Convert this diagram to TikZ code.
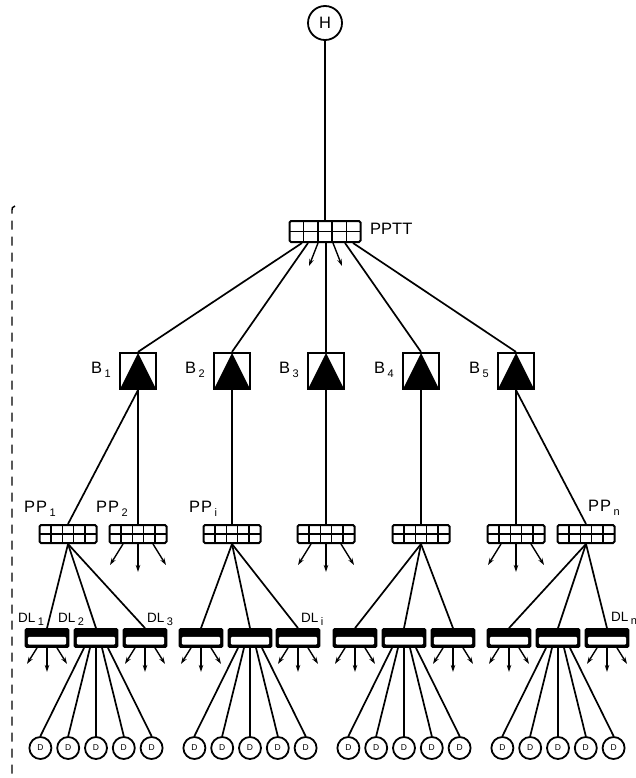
\documentclass[tikz,border=0pt]{standalone}
\usepackage{fontspec}
\setmainfont{Liberation Sans}
\usetikzlibrary{calc,arrows.meta}
\newcommand{\lsub}[1]{\kern2.5pt\raisebox{-0.55ex}{\fontsize{11}{12}\selectfont #1}}
\begin{document}
\begin{tikzpicture}[x=1pt,y=-1pt,
  conn/.style={line width=1.7pt},
  outarr/.style={line width=1.4pt,-{Stealth[length=7pt,width=4.5pt]}},
  gridbox/.style={draw,line width=2pt,rounded corners=1.5pt,minimum width=57pt,minimum height=18pt,inner sep=0pt,
    path picture={
      \foreach \f in {0.2,0.4,0.6,0.8}{
        \draw[line width=1.5pt] ($(path picture bounding box.north west)!\f!(path picture bounding box.north east)$) -- ($(path picture bounding box.south west)!\f!(path picture bounding box.south east)$);
      }
      \draw[line width=1.5pt] (path picture bounding box.west) -- (path picture bounding box.east);
    }},
  bbox/.style={draw,line width=2.2pt,minimum size=36pt,inner sep=0pt,
    path picture={\fill (path picture bounding box.south west) -- (path picture bounding box.north) -- (path picture bounding box.south east) -- cycle;}},
  dlbox/.style={draw,fill=black,line width=1.8pt,rounded corners=1.2pt,minimum width=43pt,minimum height=18pt,inner sep=0pt,
    path picture={\fill[white] ([xshift=2.4pt,yshift=2.4pt]path picture bounding box.south west) rectangle ([xshift=-2.4pt,yshift=1.2pt]path picture bounding box.east);}},
  dnode/.style={circle,draw,line width=1.8pt,minimum size=22pt,inner sep=0pt,font=\fontsize{8.5}{9}\selectfont},
  lbl/.style={inner sep=0pt,font=\fontsize{16.5}{18}\selectfont},
  dllbl/.style={inner sep=0pt,font=\fontsize{13.5}{15}\selectfont}]
\useasboundingbox (0,0) rectangle (636,778);

% frame line on the left
\draw[line width=1.4pt,dash pattern=on 9pt off 7pt] (15,206) .. controls (12,207) .. (12,214) -- (12,778);

% top
\node[circle,draw,line width=1.8pt,minimum size=34pt,inner sep=0pt,font=\fontsize{16.5}{18}\selectfont] (H) at (325,23) {H};
\node[gridbox,minimum width=71pt,minimum height=21pt] (PPTT) at (325,231.5) {};
\node[lbl,anchor=west] (lPPTT) at (370,229) {PPTT};
\draw[conn] (H) -- (PPTT);

% B boxes
\foreach \n/\x in {1/138,2/232,3/326,4/421,5/516}
  \node[bbox] (B\n) at (\x,371) {};
\foreach \n/\x in {1/91,2/185,3/279,4/374,5/469}
  \node[lbl,anchor=base west] (lB\n) at (\x,373) {B\lsub{\n}};

\draw[conn] ([xshift=-23pt]PPTT.south) -- (B1.north);
\draw[conn] ([xshift=-17pt]PPTT.south) -- (B2.north);
\draw[conn] ([xshift=1pt]PPTT.south) -- (B3.north);
\draw[conn] ([xshift=20pt]PPTT.south) -- (B4.north);
\draw[conn] ([xshift=28pt]PPTT.south) -- (B5.north);
\draw[outarr] ([xshift=-7pt]PPTT.south) -- ++(-9,23);
\draw[outarr] ([xshift=8pt]PPTT.south) -- ++(9,23);

% PP boxes
\foreach \p/\x in {PPa/68,PPb/138,PPc/232,PPd/326,PPe/421,PPf/516,PPg/586}
  \node[gridbox] (\p) at (\x,534) {};
\node[lbl,anchor=base west] (lPPa) at (24,512) {P\kern1pt P\lsub{1}};
\node[lbl,anchor=base west] (lPPb) at (96,512) {P\kern1pt P\lsub{2}};
\node[lbl,anchor=base west] (lPPc) at (189,512) {P\kern1pt P\lsub{i}};
\node[lbl,anchor=base west] (lPPg) at (588,511) {P\kern1pt P\lsub{n}};

\draw[conn] (B1.south) -- (PPa.north);
\draw[conn] (B1.south) -- (PPb.north);
\draw[conn] (B2.south) -- (PPc.north);
\draw[conn] (B3.south) -- (PPd.north);
\draw[conn] (B4.south) -- (PPe.north);
\draw[conn] (B5.south) -- (PPf.north);
\draw[conn] (B5.south) -- (PPg.north);

\foreach \p in {PPb,PPd,PPf}{
  \draw[outarr] ([xshift=-15pt]\p.south) -- ++(-13,21);
  \draw[outarr] (\p.south) -- ++(0,28);
  \draw[outarr] ([xshift=15pt]\p.south) -- ++(13,21);
}

% DL boxes
\foreach \n/\x in {1/47,2/96,3/145,4/201,5/250,6/298,7/355,8/404,9/453,10/509,11/558,12/607}
  \node[dlbox] (DL\n) at (\x,638) {};
\node[dllbl,anchor=base west] (lDL1) at (18,622) {DL\lsub{1}};
\node[dllbl,anchor=base west] (lDL2) at (58,622) {DL\lsub{2}};
\node[dllbl,anchor=base west] (lDL3) at (147,622) {DL\lsub{3}};
\node[dllbl,anchor=base west] (lDLi) at (301,622) {DL\lsub{i}};
\node[dllbl,anchor=base west] (lDLn) at (611,621) {DL\lsub{n}};

\foreach \p/\a/\b/\c in {PPa/1/2/3,PPc/4/5/6,PPe/7/8/9,PPg/10/11/12}{
  \draw[conn] (\p.south) -- (DL\a.north);
  \draw[conn] (\p.south) -- (DL\b.north);
  \draw[conn] (\p.south) -- (DL\c.north);
}

\foreach \n in {1,3,4,6,7,9,10,12}{
  \draw[outarr] ([xshift=-10pt]DL\n.south) -- ++(-10,16);
  \draw[outarr] (DL\n.south) -- ++(0,24);
  \draw[outarr] ([xshift=10pt]DL\n.south) -- ++(10,16);
}

% D circles
\foreach \d in {2,5,8,11}{
  \foreach \k in {1,...,5}{
    \pgfmathsetmacro\dx{(\k-3)*27.8}
    \pgfmathsetmacro\off{(\k-3)*6}
    \node[dnode] (D\d x\k) at ($(DL\d.center)+(\dx,110)$) {D};
    \draw[conn] ([xshift=\off pt]DL\d.south) -- (D\d x\k.north);
  }
}
\end{tikzpicture}
\end{document}
